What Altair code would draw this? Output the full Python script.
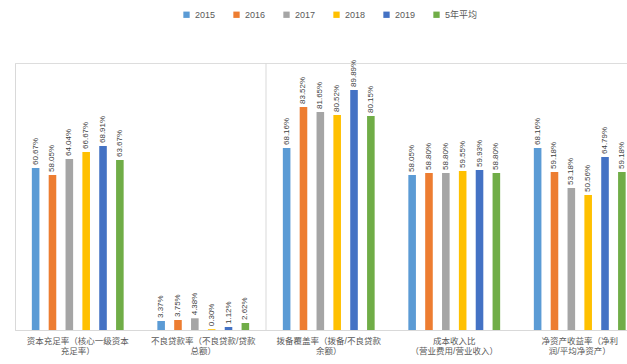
import altair as alt
import pandas as pd

categories = [
    "资本充足率（核心一级资本\n充足率）",
    "不良贷款率（不良贷款/贷款\n总额）",
    "拨备覆盖率（拨备/不良贷款\n余额）",
    "成本收入比\n（营业费用/营业收入）",
    "净资产收益率（净利\n润/平均净资产）",
]
series = ["2015", "2016", "2017", "2018", "2019", "5年平均"]
colors = ["#5B9BD5", "#ED7D31", "#A5A5A5", "#FFC000", "#4472C4", "#70AD47"]

v2015 = [60.67, 3.37, 68.16, 58.05, 68.16]
v2016 = [58.05, 3.75, 83.52, 58.80, 59.18]
v2017 = [64.04, 4.38, 81.65, 58.80, 53.18]
v2018 = [66.67, 0.30, 80.52, 59.55, 50.56]
v2019 = [68.91, 1.12, 89.89, 59.93, 64.79]
vavg = [63.67, 2.62, 80.15, 58.80, 59.18]

rows = []
for s, vals in zip(series, [v2015, v2016, v2017, v2018, v2019, vavg]):
    for c, v in zip(categories, vals):
        rows.append({"cat": c, "series": s, "value": v, "label": f"{v:.2f}%"})
df = pd.DataFrame(rows)

FONT = "Liberation Sans, Noto Sans CJK SC"

x_enc = alt.X(
    "cat:N",
    sort=categories,
    scale=alt.Scale(paddingInner=0, paddingOuter=0, range=[0, 627.5]),
    axis=alt.Axis(
        title=None,
        labelAngle=0,
        labelAlign="center",
        labelBaseline="top",
        labelExpr="split(datum.label, '\\n')",
        ticks=False,
        domainColor="#D9D9D9",
        labelFontSize=8.5,
        labelColor="#595959",
        labelPadding=6,
        labelLineHeight=10,
        labelLimit=300,
        labelFont=FONT,
    ),
)
xoff_enc = alt.XOffset(
    "series:N", sort=series, scale=alt.Scale(paddingInner=0.55, paddingOuter=1)
)
y_enc = alt.Y(
    "value:Q",
    scale=alt.Scale(domain=[0, 100]),
    axis=alt.Axis(title=None, labels=False, ticks=False, grid=False, domainColor="#D9D9D9"),
)

bars = alt.Chart(df).mark_bar().encode(
    x=x_enc,
    xOffset=xoff_enc,
    y=y_enc,
    color=alt.Color(
        "series:N",
        sort=series,
        scale=alt.Scale(domain=series, range=colors),
        legend=alt.Legend(
            title=None,
            orient="none",
            legendX=167,
            legendY=-53,
            direction="horizontal",
            symbolType="square",
            symbolSize=40,
            symbolStrokeWidth=0,
            labelFontSize=9,
            labelColor="#595959",
            labelFont=FONT,
            columnPadding=16,
        ),
    ),
)

labels = alt.Chart(df).mark_text(
    angle=270, align="left", baseline="middle", dx=3, fontSize=8, color="#404040", font=FONT
).encode(x=x_enc, xOffset=xoff_enc, y=y_enc, text="label:N")

sep_df = pd.DataFrame({"cat": [categories[2]]})
sep = alt.Chart(sep_df).mark_rule(color="#D9D9D9", strokeWidth=1).encode(
    x=alt.X("cat:N", sort=categories, bandPosition=0),
    y=alt.value(0),
    y2=alt.value(267),
)

chart = (
    alt.layer(sep, bars, labels)
    .properties(
        width=612,
        height=267,
        autosize=alt.AutoSizeParams(type="none"),
        padding={"left": 15, "top": 63, "right": 0, "bottom": 34},
    )
    .configure_view(stroke=None)
    .configure(background="white")
)

chart.save("out.html", embed_options={"renderer": "svg", "actions": False})
